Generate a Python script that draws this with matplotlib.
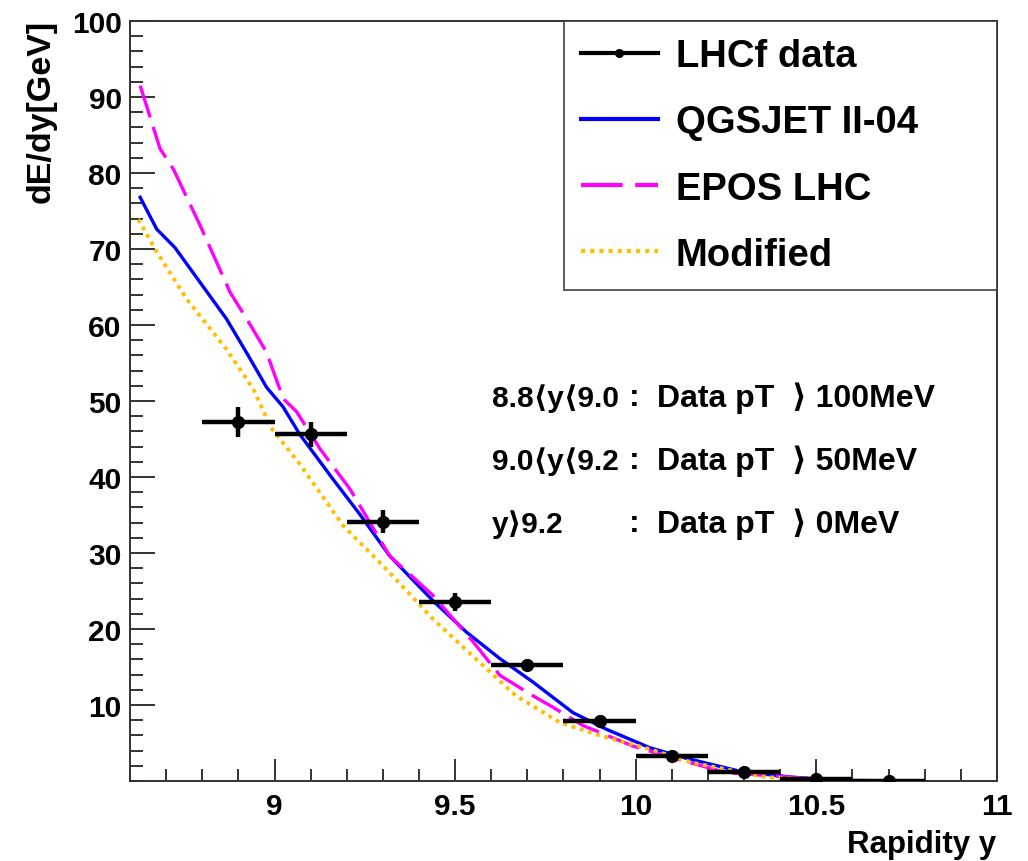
import numpy as np
import matplotlib
matplotlib.use("Agg")
import matplotlib.pyplot as plt
from matplotlib.lines import Line2D
from matplotlib.ticker import MultipleLocator, FixedLocator

plt.rcParams['font.family'] = ['Liberation Sans', 'DejaVu Sans']
plt.rcParams['font.weight'] = 'bold'

# LHCf data points (bin centre, value, y error)
data_y = [8.9, 9.1, 9.3, 9.5, 9.7, 9.9, 10.1, 10.3, 10.5, 10.7]
data_dedy = [47.2, 45.6, 34.1, 23.6, 15.2, 7.9, 3.3, 1.15, 0.3, 0.05]
data_err = [2.0, 1.7, 1.5, 1.2, 0.5, 0.5, 0.3, 0.2, 0.1, 0.05]
bin_half = [0.1] * len(data_y)

# QGSJET II-04
qgs_x = [8.628, 8.674, 8.724, 8.794, 8.867, 8.927, 8.978, 9.024, 9.070,
         9.162, 9.236, 9.319, 9.439, 9.531, 9.624, 9.716, 9.826, 9.919,
         10.038, 10.131, 10.200, 10.296, 10.434, 10.545, 10.75]
qgs_val = [76.8, 72.6, 70.2, 65.6, 60.8, 56.0, 51.8, 49.2, 45.6,
           39.7, 35.1, 29.6, 23.7, 19.6, 16.1, 13.0, 9.0, 6.8,
           4.4, 3.1, 2.3, 1.2, 0.5, 0.1, 0.0]

# EPOS LHC
epos_x = [8.628, 8.683, 8.720, 8.794, 8.877, 8.923, 8.978, 9.024, 9.061,
          9.126, 9.209, 9.319, 9.439, 9.550, 9.624, 9.716, 9.771, 9.854,
          9.992, 10.084, 10.25, 10.43, 10.58, 10.75]
epos_val = [91.5, 83.2, 80.5, 73.1, 64.3, 60.8, 56.4, 50.3, 48.6,
            43.7, 38.4, 29.6, 24.4, 18.3, 13.9, 11.2, 9.7, 7.3,
            4.6, 3.3, 1.1, 0.5, 0.05, 0.0]

# Modified
mod_x = [8.623, 8.674, 8.757, 8.867, 8.941, 8.990, 9.070, 9.190, 9.301,
         9.439, 9.577, 9.669, 9.790, 9.900, 10.038, 10.158, 10.36, 10.58, 10.75]
mod_val = [73.9, 69.6, 63.4, 56.8, 51.6, 46.5, 41.7, 33.6, 28.3,
           21.3, 15.2, 11.2, 7.7, 6.0, 4.2, 2.4, 0.5, 0.0, 0.0]

legend_labels = ["LHCf data", "QGSJET II-04", "EPOS LHC", "Modified"]
cut_ranges = ["8.8\u27e8y\u27e89.0", "9.0\u27e8y\u27e89.2", "y\u27e99.2"]
cut_values = ["Data pT  \u27e9 100MeV", "Data pT  \u27e9 50MeV", "Data pT  \u27e9 0MeV"]

fig = plt.figure(figsize=(10.28, 8.62), dpi=100)
ax = fig.add_axes([0.1265, 0.0928, 0.8433, 0.8817])

ax.plot(qgs_x, qgs_val, color='#0000ff', lw=2.4)
ax.plot(epos_x, epos_val, color='#ff00ff', lw=2.4, dashes=(10, 3))
ax.plot(mod_x, mod_val, color='#ffbf00', lw=2.8, dashes=(1, 1.2))
ax.errorbar(data_y, data_dedy, xerr=bin_half, yerr=data_err, fmt='o',
            color='black', ms=8.5, elinewidth=3.2, capsize=0, zorder=5)

ax.set_xlim(8.6, 11)
ax.set_ylim(0, 100)
ax.xaxis.set_major_locator(FixedLocator([9, 9.5, 10, 10.5, 11]))
ax.xaxis.set_minor_locator(MultipleLocator(0.1))
ax.yaxis.set_major_locator(FixedLocator([10, 20, 30, 40, 50, 60, 70, 80, 90, 100]))
ax.yaxis.set_minor_locator(MultipleLocator(2))
ax.set_xticklabels(["9", "9.5", "10", "10.5", "11"])
ax.tick_params(axis='both', which='both', direction='in', colors='#333333',
               labelcolor='black', labelsize=21.5, width=1.4)
ax.tick_params(axis='y', which='major', length=18, pad=6)
ax.tick_params(axis='y', which='minor', length=9.5)
ax.tick_params(axis='x', which='major', length=16, pad=8)
ax.tick_params(axis='x', which='minor', length=9)
for lab in ax.get_xticklabels() + ax.get_yticklabels():
    lab.set_fontweight('bold')
for s in ax.spines.values():
    s.set_linewidth(1.4)
    s.set_color('#333333')

ax.set_ylabel("dE/dy[GeV]", fontsize=24.5, fontweight='bold')
ax.yaxis.set_label_coords(-0.085, 1.003)
ax.yaxis.label.set_horizontalalignment('right')
ax.set_xlabel("Rapidity y", fontsize=22.5, fontweight='bold')
ax.xaxis.set_label_coords(0.9985, -0.0934)
ax.xaxis.label.set_horizontalalignment('right')
ax.xaxis.label.set_verticalalignment('baseline')

for i, (rng, val) in enumerate(zip(cut_ranges, cut_values)):
    ty = 0.505 - i * 0.083
    ax.text(0.4175, ty, rng, transform=ax.transAxes, fontsize=21.5, va='center')
    ax.text(0.5758, ty, ":", transform=ax.transAxes, fontsize=23, va='center')
    ax.text(0.6077, ty, val, transform=ax.transAxes, fontsize=23, va='center')

handles = [
    Line2D([], [], color='black', lw=3, marker='o', ms=5.5),
    Line2D([], [], color='#0000ff', lw=3),
    Line2D([], [], color='#ff00ff', lw=3, dashes=(10, 3)),
    Line2D([], [], color='#ffbf00', lw=3, dashes=(1, 1.2)),
]
leg = ax.legend(handles, legend_labels, loc='upper left',
                bbox_to_anchor=(0.5006, 0.642, 0.4994, 0.358), mode='expand',
                frameon=True, fancybox=False, borderaxespad=0,
                handlelength=2.0, handletextpad=0.47, labelspacing=0.79,
                borderpad=0.45, prop={'weight': 'bold', 'size': 27.5})
leg.get_frame().set_edgecolor('#333333')
leg.get_frame().set_linewidth(1.4)

fig.savefig("out.png", dpi=100)
